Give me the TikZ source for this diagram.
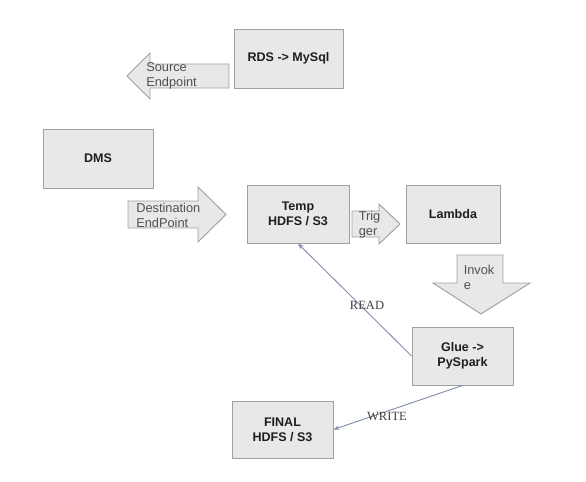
\documentclass[tikz,border=0pt]{standalone}
\usepackage{fontspec}
\setmainfont{Liberation Sans}
\newfontfamily\serifface{Liberation Serif}
\usetikzlibrary{arrows.meta}
\definecolor{boxfill}{HTML}{E8E8E8}
\definecolor{boxline}{HTML}{A0A0A0}
\definecolor{conn}{HTML}{8090AC}
\definecolor{btext}{HTML}{1E1E1E}
\definecolor{atext}{HTML}{505050}
\tikzset{
  box/.style={draw=boxline, fill=boxfill, line width=0.7pt, inner sep=0pt,
    align=center, text=btext, font=\bfseries\fontsize{9.4}{11.25}\selectfont},
  blockarrow/.style={draw=boxline, fill=boxfill, line width=0.7pt, line join=miter},
  arrowtext/.style={anchor=west, inner sep=0pt, align=left, text=atext,
    font=\fontsize{9.6}{11.25}\selectfont},
  conline/.style={draw=conn, line width=0.7pt, -{Stealth[length=4.5pt,width=3.5pt]}},
  linelabel/.style={inner sep=0pt, text=black!75, font=\serifface\fontsize{9.4}{10}\selectfont}
}
\begin{document}
\begin{tikzpicture}[x=0.75pt,y=-0.75pt]
\useasboundingbox (0,0) rectangle (586,482);
% boxes
\node[box, minimum width=81.75pt, minimum height=44.25pt] (rds) at (288.5,58.5) {RDS -> MySql};
\node[box, minimum width=82.5pt, minimum height=44.25pt] (dms) at (98,158.5) {DMS};
\node[box, minimum width=76.5pt, minimum height=43.5pt] (temp) at (298,214) {Temp\\HDFS / S3};
\node[box, minimum width=70.5pt, minimum height=43.5pt] (lambda) at (453,214) {Lambda};
\node[box, minimum width=75.75pt, minimum height=43.5pt] (glue) at (462.5,356) {Glue ->\\PySpark};
\node[box, minimum width=75.75pt, minimum height=42.75pt] (final) at (282.5,429.5) {FINAL\\HDFS / S3};
% block arrows
\draw[blockarrow] (229,64) -- (150,64) -- (150,53) -- (127,76) -- (150,99) -- (150,88) -- (229,88) -- cycle;
\node[arrowtext] (srctext) at (146,75.5) {Source\\Endpoint};
\draw[blockarrow] (128,201) -- (198,201) -- (198,187) -- (226,214.5) -- (198,242) -- (198,228) -- (128,228) -- cycle;
\node[arrowtext] (dsttext) at (136,215) {Destination\\EndPoint};
\draw[blockarrow] (352,211) -- (379,211) -- (379,204) -- (400,224) -- (379,244) -- (379,237) -- (352,237) -- cycle;
\node[arrowtext] (trigtext) at (358.5,225) {Trig\\ger};
\draw[blockarrow] (457,255) -- (503,255) -- (503,283) -- (530,283) -- (481,314) -- (433,283) -- (457,283) -- cycle;
\node[arrowtext] (invtext) at (463.5,277) {Invok\\e};
% connectors
\draw[conline] (glue.west) -- (temp.south);
\draw[conline] (glue.south) -- (final.east);
\node[linelabel] (readlbl) at (367,305) {READ};
\node[linelabel] (writelbl) at (387,416) {WRITE};
\end{tikzpicture}
\end{document}
